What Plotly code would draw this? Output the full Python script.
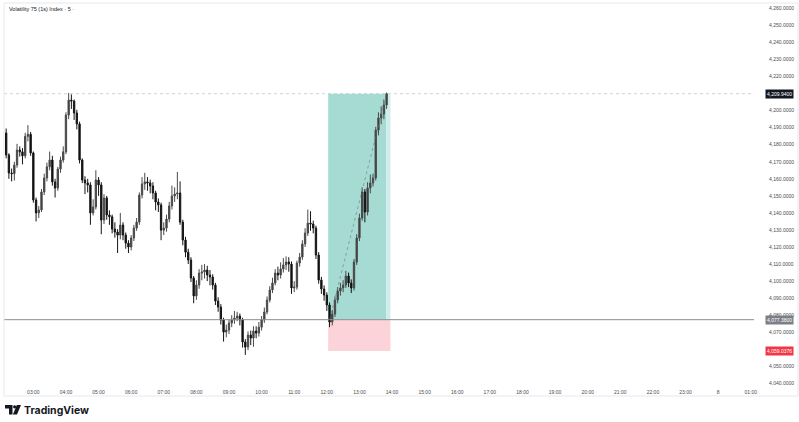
import pandas as pd
import plotly.graph_objects as go

# ---------------- data ----------------
start_time = "2025-05-07 02:10"
opens = [4186.9, 4174.0, 4163.4, 4163.0, 4168.1, 4176.9, 4175.8, 4173.5, 4184.9, 4186.1,
         4175.2, 4147.6, 4140.0, 4141.7, 4152.3, 4160.5, 4167.0, 4171.0, 4158.2, 4154.6,
         4165.7, 4171.0, 4175.8, 4197.4, 4206.2, 4205.6, 4198.6, 4192.2, 4171.0, 4159.3,
         4157.6, 4156.4, 4140.0, 4143.5, 4159.3, 4156.4, 4135.8, 4148.8, 4138.8, 4137.7,
         4130.5, 4128.8, 4127.0, 4132.9, 4127.0, 4122.3, 4120.0, 4125.3, 4131.1, 4134.6,
         4150.5, 4157.0, 4158.2, 4157.6, 4155.8, 4151.7, 4146.4, 4144.7, 4129.9, 4131.1,
         4136.4, 4144.1, 4149.9, 4151.1, 4151.7, 4134.6, 4124.1, 4117.0, 4112.4, 4101.8,
         4091.3, 4097.7, 4104.7, 4105.3, 4106.5, 4103.6, 4102.4, 4097.7, 4088.3, 4084.8,
         4077.2, 4070.1, 4071.3, 4075.4, 4077.2, 4078.4, 4079.5, 4077.2, 4064.3, 4061.3,
         4068.4, 4066.6, 4070.7, 4069.5, 4073.0, 4077.2, 4081.9, 4088.9, 4094.8, 4098.9,
         4104.7, 4103.6, 4107.1, 4109.5, 4111.2, 4110.0, 4096.0, 4096.5, 4110.6, 4114.1,
         4121.8, 4128.2, 4134.0, 4133.5, 4131.1, 4115.3, 4100.6, 4095.4, 4091.8, 4086.0,
         4076.0, 4080.7, 4088.9, 4094.2, 4096.0, 4097.7, 4103.0, 4098.9, 4096.0, 4111.2,
         4125.3, 4137.0, 4152.3, 4140.5, 4154.6, 4157.6, 4160.5, 4188.6, 4195.7, 4198.0,
         4203.3]
closes = [4174.0, 4163.4, 4163.0, 4168.1, 4176.9, 4175.8, 4173.5, 4184.9, 4186.1, 4175.2,
          4147.6, 4140.0, 4141.7, 4152.3, 4160.5, 4167.0, 4171.0, 4158.2, 4154.6, 4165.7,
          4171.0, 4175.8, 4197.4, 4206.2, 4205.6, 4198.6, 4192.2, 4171.0, 4159.3, 4157.6,
          4156.4, 4140.0, 4143.5, 4159.3, 4156.4, 4135.8, 4148.8, 4138.8, 4137.7, 4130.5,
          4128.8, 4127.0, 4132.9, 4127.0, 4122.3, 4120.0, 4125.3, 4131.1, 4134.6, 4150.5,
          4157.0, 4158.2, 4157.6, 4155.8, 4151.7, 4146.4, 4144.7, 4129.9, 4131.1, 4136.4,
          4144.1, 4149.9, 4151.1, 4151.7, 4134.6, 4124.1, 4117.0, 4112.4, 4101.8, 4091.3,
          4097.7, 4104.7, 4105.3, 4106.5, 4103.6, 4102.4, 4097.7, 4088.3, 4084.8, 4077.2,
          4070.1, 4071.3, 4075.4, 4077.2, 4078.4, 4079.5, 4077.2, 4064.3, 4061.3, 4068.4,
          4066.6, 4070.7, 4069.5, 4073.0, 4077.2, 4081.9, 4088.9, 4094.8, 4098.9, 4104.7,
          4103.6, 4107.1, 4109.5, 4111.2, 4110.0, 4096.0, 4096.5, 4110.6, 4114.1, 4121.8,
          4128.2, 4134.0, 4133.5, 4131.1, 4115.3, 4100.6, 4095.4, 4091.8, 4086.0, 4076.0,
          4080.7, 4088.9, 4094.2, 4096.0, 4097.7, 4103.0, 4098.9, 4096.0, 4111.2, 4125.3,
          4137.0, 4152.3, 4140.5, 4154.6, 4157.6, 4160.5, 4188.6, 4195.7, 4198.0, 4203.3,
          4209.9]
highs = [4189.5, 4175.0, 4166.0, 4170.0, 4180.5, 4179.0, 4178.0, 4187.0, 4191.5, 4187.5,
         4176.0, 4149.0, 4144.0, 4154.0, 4163.0, 4169.5, 4176.0, 4173.5, 4160.0, 4167.0,
         4173.0, 4179.0, 4199.0, 4210.3, 4209.5, 4206.5, 4200.5, 4193.5, 4172.0, 4161.5,
         4160.0, 4158.0, 4148.0, 4165.0, 4161.0, 4158.0, 4151.0, 4150.0, 4141.5, 4139.0,
         4134.5, 4130.5, 4140.0, 4134.5, 4128.5, 4124.0, 4127.0, 4133.0, 4137.0, 4152.0,
         4161.0, 4163.5, 4161.0, 4159.5, 4158.0, 4153.0, 4148.5, 4146.0, 4134.5, 4139.0,
         4146.5, 4156.0, 4155.0, 4164.0, 4158.5, 4136.0, 4126.0, 4119.0, 4114.0, 4103.0,
         4100.5, 4107.0, 4109.5, 4110.0, 4109.0, 4106.5, 4104.0, 4099.0, 4090.5, 4086.5,
         4078.5, 4074.5, 4077.5, 4080.0, 4082.5, 4082.0, 4081.0, 4078.5, 4066.0, 4070.5,
         4071.0, 4073.5, 4073.5, 4076.0, 4079.5, 4084.5, 4091.0, 4097.0, 4102.0, 4107.0,
         4108.5, 4111.0, 4113.5, 4114.5, 4114.0, 4111.5, 4100.0, 4112.0, 4116.5, 4124.0,
         4131.0, 4142.0, 4141.0, 4135.5, 4132.5, 4117.0, 4102.5, 4097.5, 4093.5, 4087.5,
         4083.0, 4091.0, 4096.5, 4099.0, 4100.5, 4106.0, 4105.0, 4101.0, 4113.0, 4127.5,
         4139.5, 4155.0, 4154.0, 4158.0, 4162.5, 4163.0, 4190.5, 4199.0, 4202.5, 4206.5,
         4210.6]
lows = [4172.0, 4160.0, 4158.5, 4159.0, 4166.5, 4173.0, 4168.5, 4172.0, 4182.0, 4173.5,
        4146.0, 4135.0, 4137.0, 4140.5, 4150.5, 4158.5, 4165.0, 4156.0, 4149.0, 4153.0,
        4163.5, 4169.5, 4174.5, 4195.0, 4201.0, 4194.5, 4189.0, 4169.0, 4157.5, 4151.0,
        4152.0, 4133.0, 4138.5, 4142.0, 4150.0, 4127.5, 4133.5, 4136.0, 4133.0, 4128.0,
        4125.5, 4116.5, 4124.5, 4124.0, 4119.0, 4116.5, 4118.0, 4123.5, 4129.5, 4133.0,
        4148.5, 4153.5, 4153.0, 4151.5, 4148.0, 4141.5, 4140.5, 4124.0, 4127.0, 4129.0,
        4134.5, 4142.0, 4146.5, 4148.0, 4133.0, 4121.0, 4114.0, 4110.0, 4099.5, 4087.0,
        4089.0, 4095.5, 4100.5, 4101.5, 4100.0, 4097.5, 4095.0, 4086.0, 4082.0, 4074.5,
        4064.5, 4067.0, 4069.0, 4073.0, 4075.0, 4076.5, 4074.0, 4061.0, 4056.7, 4059.5,
        4062.5, 4061.5, 4066.5, 4067.5, 4071.0, 4075.5, 4080.5, 4087.5, 4093.0, 4097.5,
        4100.5, 4101.5, 4105.0, 4106.5, 4105.5, 4092.5, 4093.5, 4095.0, 4108.5, 4112.5,
        4120.0, 4126.5, 4129.5, 4128.0, 4113.0, 4098.5, 4092.5, 4088.5, 4082.5, 4073.0,
        4074.0, 4079.0, 4087.0, 4091.5, 4093.5, 4096.0, 4096.5, 4093.0, 4094.5, 4109.5,
        4123.5, 4135.5, 4134.5, 4138.5, 4151.5, 4155.5, 4159.0, 4185.5, 4192.0, 4195.0,
        4201.0]

entry_price = 4077.38
target_price = 4209.94
stop_price = 4059.0376
entry_time = "2025-05-07 12:05"
last_time = "2025-05-07 13:50"

hour_ticks = ["2025-05-07 %02d:00" % h for h in range(3, 24)] + ["2025-05-08 00:00", "2025-05-08 01:00"]
hour_labels = ["%02d:00" % h for h in range(3, 24)] + ["8", "01:00"]
# price ticks every 10 (4,210 and 4,060 sit under the price-label boxes)
y_ticks = [4040, 4050, 4070, 4080, 4090, 4100, 4110, 4120, 4130, 4140, 4150,
           4160, 4170, 4180, 4190, 4200, 4220, 4230, 4240, 4250, 4260]

title_text = "Volatility 75 (1s) Index · 5 ·"

# ---------------- figure ----------------
times = pd.date_range(start_time, periods=len(closes), freq="5min")

W, H = 799, 422
ML, MR, MT, MB = 4, 45, 3, 37
PW, PH = W - ML - MR, H - MT - MB


def px(x):
    return (x - ML) / PW


def py(y):
    return (H - MB - y) / PH


fig = go.Figure()
fig.add_trace(go.Candlestick(
    x=times, open=opens, high=highs, low=lows, close=closes,
    increasing=dict(fillcolor="#3a3a3a", line=dict(color="#4a4a4a", width=1)),
    decreasing=dict(fillcolor="#0d0d0d", line=dict(color="#151515", width=1)),
    whiskerwidth=0, showlegend=False, hoverinfo="skip",
))

shapes = []
# long position tool
shapes.append(dict(type="rect", xref="x", yref="y", x0="2025-05-07 12:02:30", x1="2025-05-07 13:49",
                   y0=entry_price, y1=target_price, fillcolor="#a6dbd3", line=dict(width=0), layer="below"))
shapes.append(dict(type="rect", xref="x", yref="y", x0="2025-05-07 13:49", x1="2025-05-07 13:57",
                   y0=entry_price, y1=target_price, fillcolor="#cfeee9", line=dict(width=0), layer="below"))
shapes.append(dict(type="rect", xref="x", yref="y", x0="2025-05-07 12:02:30", x1="2025-05-07 13:57",
                   y0=stop_price, y1=entry_price, fillcolor="#fbd3d8", line=dict(width=0), layer="below"))
# price lines
shapes.append(dict(type="line", xref="paper", yref="y", x0=0, x1=1, y0=target_price, y1=target_price,
                   line=dict(color="#cfd2d8", width=1, dash="dot"), layer="below"))
shapes.append(dict(type="line", xref="paper", yref="y", x0=0, x1=1, y0=entry_price, y1=entry_price,
                   line=dict(color="#8a8d95", width=1)))
shapes.append(dict(type="line", xref="x", yref="y", x0=entry_time, x1=last_time, y0=entry_price, y1=target_price,
                   line=dict(color="rgba(110,110,110,0.55)", width=1, dash="dot")))
# frame
shapes.append(dict(type="rect", xref="paper", yref="paper", x0=px(4), x1=px(798), y0=py(396), y1=py(3),
                   line=dict(color="#e6e8ee", width=1), fillcolor="rgba(0,0,0,0)"))


# TradingView logo
def path(points):
    return "M " + " L ".join("%f,%f" % (px(a), py(b)) for a, b in points) + " Z"


shapes.append(dict(type="path", xref="paper", yref="paper",
                   path=path([(5, 405), (12.5, 405), (12.5, 414.5), (9, 414.5), (9, 408.5), (5, 408.5)]),
                   fillcolor="#131722", line=dict(width=0)))
shapes.append(dict(type="circle", xref="paper", yref="paper", x0=px(13), x1=px(16.2), y0=py(408.4), y1=py(405.2),
                   fillcolor="#131722", line=dict(width=0)))
shapes.append(dict(type="path", xref="paper", yref="paper",
                   path=path([(16.8, 405), (21, 405), (17, 414.5), (12.9, 414.5)]),
                   fillcolor="#131722", line=dict(width=0)))

annotations = [
    dict(text=title_text, xref="paper", yref="paper", x=px(7), y=py(9), xanchor="left", yanchor="middle",
         showarrow=False, font=dict(size=5.5, color="#131722", family="Liberation Sans")),
    dict(text="<b>TradingView</b>", xref="paper", yref="paper", x=px(22), y=py(410), xanchor="left",
         yanchor="middle", showarrow=False, font=dict(size=10.5, color="#131722", family="Inter")),
]
for val, bg in [(target_price, "#131722"), (entry_price, "#7d7f87"), (stop_price, "#f23645")]:
    annotations.append(dict(text="{:,.4f}".format(val), xref="paper", yref="y", x=px(779), y=val,
                            xanchor="center", yanchor="middle", showarrow=False, bgcolor=bg, borderpad=1,
                            font=dict(size=5, color="#ffffff", family="Liberation Sans")))

fig.update_layout(
    width=W, height=H, margin=dict(l=ML, r=MR, t=MT, b=MB),
    paper_bgcolor="#ffffff", plot_bgcolor="#ffffff",
    shapes=shapes, annotations=annotations, showlegend=False,
    xaxis=dict(type="date", range=["2025-05-07 02:06", "2025-05-08 01:06"], rangeslider=dict(visible=False),
               showgrid=False, zeroline=False, showline=False, tickmode="array", tickvals=hour_ticks,
               ticktext=hour_labels, ticks="", ticklabelstandoff=3,
               tickfont=dict(size=5, color="#4a4a4a", family="Liberation Sans")),
    yaxis=dict(side="right", range=[4039.07, 4263.11], showgrid=False, zeroline=False, showline=False,
               tickmode="array", tickvals=y_ticks, tickformat=",.4f", ticks="", ticklabelstandoff=14,
               tickfont=dict(size=5, color="#4a4a4a", family="Liberation Sans")),
)

fig.write_html("out.html", config={"displayModeBar": False},
               post_script="document.body.style.margin='0';document.body.style.overflow='hidden';")
